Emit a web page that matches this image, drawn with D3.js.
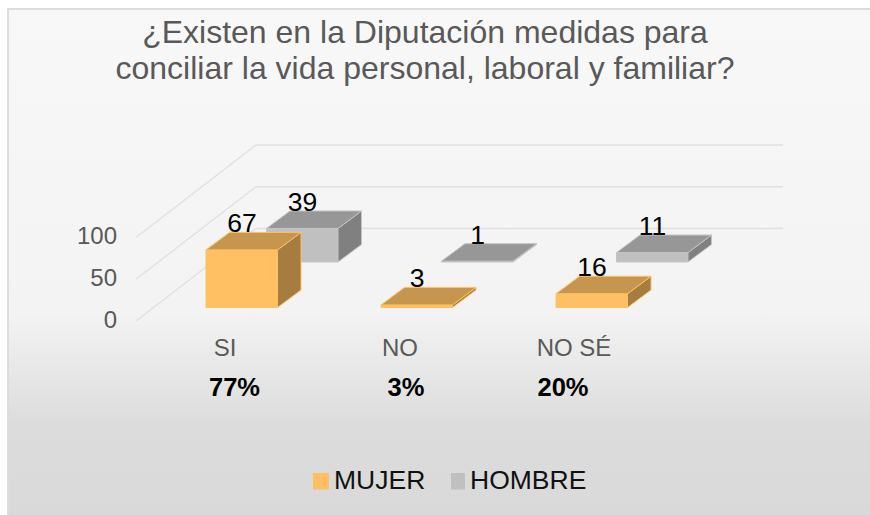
<!DOCTYPE html>
<html><head><meta charset="utf-8">
<script src="https://cdn.jsdelivr.net/npm/d3@7/dist/d3.min.js"></script>
<style>html,body{margin:0;padding:0;background:#fff}svg{display:block}text{font-family:"Liberation Sans",Arial,sans-serif}</style>
</head><body><svg id="c" width="870" height="515"></svg>
<script>
const categories = ["SI","NO","NO SÉ"];
const percents = ["77%","3%","20%"];
const mujer = [67,3,16];
const hombre = [39,1,11];
const legendNames = ["MUJER","HOMBRE"];
const gridTicks = [0,50,100];
const titleLines = ["¿Existen en la Diputación medidas para","conciliar la vida personal, laboral y familiar?"];

const svg = d3.select("#c");
const defs = svg.append("defs");
const g = defs.append("linearGradient").attr("id","bg").attr("x1",0).attr("y1",0).attr("x2",0).attr("y2",1);
[[0,"#f8f8f8"],[0.6,"#f3f3f3"],[0.82,"#dcdcdc"],[1,"#d9d9d9"]].forEach(s=>g.append("stop").attr("offset",s[0]).attr("stop-color",s[1]));
svg.append("rect").attr("x",8).attr("y",9).attr("width",864).attr("height",508).attr("fill","url(#bg)").attr("stroke","#dcdcdc").attr("stroke-width",2);

titleLines.forEach((t,i)=>svg.append("text").attr("x",425).attr("y",43+i*35.5).attr("text-anchor","middle")
  .attr("font-size",32).attr("fill","#595959").text(t));

const x = d3.scaleBand().domain(categories).range([206,731]).paddingInner(0).paddingOuter(0);
const barW = 71.5;
const y = d3.scaleLinear().domain([0,100]).range([0,86]);
const gridY = d3.scaleLinear().domain([0,100]).range([321,237.5]);
const depth = {dx:23.5, dy:-17.5};
const rowShift = {dx:60.5, dy:-45.5};
const baseY = 307.5;

// gridlines
gridTicks.forEach(t=>{
  const y0 = gridY(t), y1 = y0-92.5;
  svg.append("polyline").attr("fill","none").attr("stroke","#e0e0e0").attr("stroke-width",1.3)
    .attr("points",`136,${y0} 256,${y1} 783,${y1}`);
  svg.append("text").attr("x",117).attr("y",y0+6.5).attr("text-anchor","end").attr("font-size",24).attr("fill","#595959").text(t);
});

function box(parent,x0,y0,h,c){
  const w=barW,d=depth,t=y0-h;
  const G=parent.append("g").attr("stroke",c.edge).attr("stroke-width",1).attr("stroke-linejoin","round");
  G.append("polygon").attr("fill",c.front).attr("points",`${x0},${y0} ${x0+w},${y0} ${x0+w},${t} ${x0},${t}`);
  G.append("polygon").attr("fill",c.side).attr("points",`${x0+w},${y0} ${x0+w+d.dx},${y0+d.dy} ${x0+w+d.dx},${t+d.dy} ${x0+w},${t}`);
  G.append("polygon").attr("fill",c.top).attr("points",`${x0},${t} ${x0+w},${t} ${x0+w+d.dx},${t+d.dy} ${x0+d.dx},${t+d.dy}`);
}
const cO={front:"#ffc064",side:"#a67d41",top:"#c6964f",edge:"#ffc064"};
const cG={front:"#c0c0c0",side:"#808080",top:"#979797",edge:"#c4c4c4"};

categories.forEach((c,i)=>box(svg,x(c)+rowShift.dx,baseY+rowShift.dy,y(hombre[i]),cG));
categories.forEach((c,i)=>box(svg,x(c),baseY,y(mujer[i]),cO));

const lab=(px,py,t)=>svg.append("text").attr("x",px).attr("y",py).attr("text-anchor","middle").attr("font-size",26.5).attr("fill","#000").text(t);
categories.forEach((c,i)=>{
  lab(x(c)+36,baseY-y(mujer[i])-17.5,mujer[i]);
  lab(x(c)+36+rowShift.dx,baseY+rowShift.dy-y(hombre[i])-17.5,hombre[i]);
});

const catX=[225,400,574], pctX=[234.5,406,563];
categories.forEach((c,i)=>{
  svg.append("text").attr("x",catX[i]).attr("y",356).attr("text-anchor","middle").attr("font-size",24).attr("fill","#595959").text(c);
  svg.append("text").attr("x",pctX[i]).attr("y",396).attr("text-anchor","middle").attr("font-size",25.5).attr("font-weight","bold").attr("fill","#000").text(percents[i]);
});

[[313,16,cO.front,334],[451,14,cG.front,470]].forEach((l,i)=>{
  svg.append("rect").attr("x",l[0]).attr("y",473).attr("width",l[1]).attr("height",16.5).attr("fill",l[2]);
  svg.append("text").attr("x",l[3]).attr("y",489).attr("font-size",26.5).attr("fill","#111").text(legendNames[i]);
});
</script></body></html>
